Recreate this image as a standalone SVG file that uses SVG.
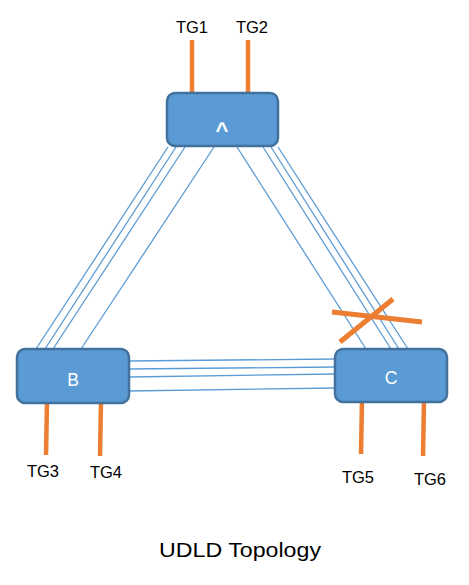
<svg xmlns="http://www.w3.org/2000/svg" width="469" height="585" viewBox="0 0 469 585">
  <style>
    .node { fill: #5B9BD5; stroke: #41719C; stroke-width: 2.5; }
    .lbl { font-family: "Liberation Sans", Arial, sans-serif; fill: #ffffff; text-anchor: middle; }
    .tg { font-family: "Liberation Sans", Arial, sans-serif; font-size: 16.5px; fill: #000000; text-anchor: middle; }
    .link { stroke: #5B9BD5; stroke-width: 1.3; fill: none; }
    .port { stroke: #ED7D31; stroke-width: 4.5; fill: none; }
    .cross { stroke: #ED7D31; stroke-width: 5; fill: none; }
  </style>
  <rect width="469" height="585" fill="#ffffff"/>

  <g id="connectors">
    <!-- A - B -->
    <line class="link" x1="168" y1="147" x2="36" y2="349"/>
    <line class="link" x1="176" y1="147" x2="45" y2="349"/>
    <line class="link" x1="185" y1="147" x2="53" y2="349"/>
    <line class="link" x1="214" y1="147" x2="81" y2="349"/>
    <!-- A - C -->
    <line class="link" x1="237" y1="147" x2="366" y2="349"/>
    <line class="link" x1="263" y1="147" x2="391" y2="349"/>
    <line class="link" x1="271" y1="147" x2="399" y2="349"/>
    <line class="link" x1="278" y1="147" x2="408" y2="349"/>
    <!-- B - C -->
    <line class="link" x1="129" y1="361" x2="335" y2="359"/>
    <line class="link" x1="129" y1="369" x2="335" y2="367"/>
    <line class="link" x1="129" y1="377" x2="335" y2="374"/>
    <line class="link" x1="129" y1="391" x2="335" y2="388"/>
    <!-- TG ports -->
    <line class="port" x1="192" y1="40" x2="192" y2="94"/>
    <line class="port" x1="248" y1="40" x2="248" y2="94"/>
    <line class="port" x1="47" y1="402" x2="46" y2="455"/>
    <line class="port" x1="101" y1="402" x2="100" y2="456"/>
    <line class="port" x1="362" y1="401" x2="361" y2="454"/>
    <line class="port" x1="424" y1="401" x2="423" y2="456"/>
    <!-- failure cross -->
    <line class="cross" x1="332" y1="312" x2="422" y2="322"/>
    <line class="cross" x1="340" y1="342" x2="393" y2="299"/>
  </g>

  <g id="node-A">
    <rect class="node" x="167" y="93" width="111" height="53" rx="8"/>
    <text class="lbl" x="222" y="138" font-size="22" font-weight="bold">^</text>
  </g>
  <g id="node-B">
    <rect class="node" x="17" y="349" width="112" height="54" rx="8"/>
    <text class="lbl" x="73" y="386" font-size="17.5">B</text>
  </g>
  <g id="node-C">
    <rect class="node" x="335" y="349" width="112" height="53" rx="8"/>
    <text class="lbl" x="391" y="384" font-size="17.5">C</text>
  </g>

  <g id="labels">
    <text class="tg" x="192" y="33">TG1</text>
    <text class="tg" x="252" y="33">TG2</text>
    <text class="tg" x="43" y="477">TG3</text>
    <text class="tg" x="106" y="478">TG4</text>
    <text class="tg" x="358" y="483">TG5</text>
    <text class="tg" x="430" y="485">TG6</text>
    <text x="240" y="557" font-family="'Liberation Sans', Arial, sans-serif" font-size="20.5" text-anchor="middle" textLength="162" lengthAdjust="spacingAndGlyphs" fill="#000000">UDLD Topology</text>
  </g>
</svg>
